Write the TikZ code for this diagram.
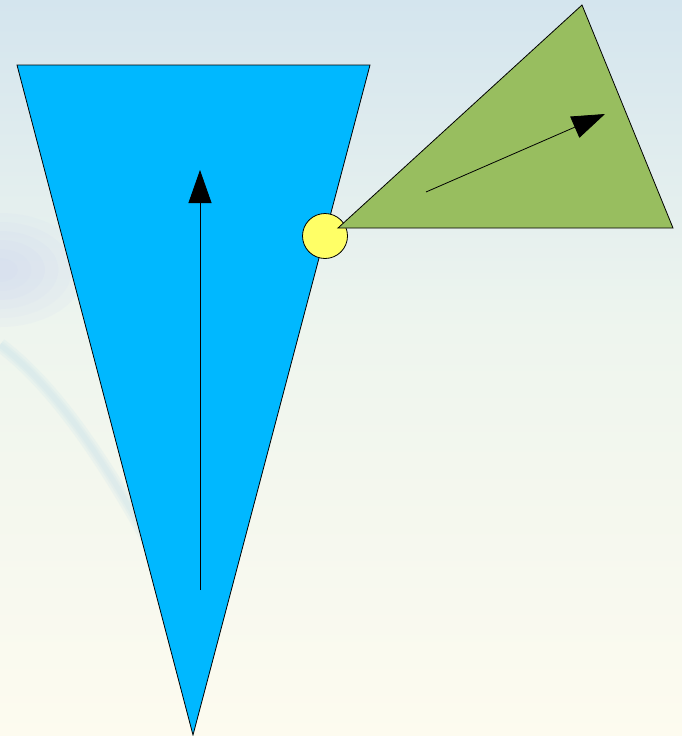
\documentclass[tikz,border=0pt]{standalone}
\usetikzlibrary{arrows.meta}
\usepackage{xcolor}
\definecolor{skyc}{HTML}{00B8FF}
\definecolor{leafc}{HTML}{98BE5F}
\definecolor{sunc}{HTML}{FFFF66}
\definecolor{bgtopc}{HTML}{D4E5EE}
\definecolor{bgmidc}{HTML}{EEF5EE}
\definecolor{bgbotc}{HTML}{FDFBEF}
\definecolor{swirlc}{HTML}{C8E2EA}
\definecolor{hazec}{HTML}{C8D0F0}

\begin{document}
\begin{tikzpicture}[x=1pt, y=-1pt]
  \tikzset{
    shapec/.style={draw=black, line width=0.8pt, line join=miter},
    pointer/.style={line width=0.8pt, -{Triangle[length=33pt, width=23pt]}}
  }
  \useasboundingbox (0,0) rectangle (682,736);
  % background
  \shade[top color=bgtopc, bottom color=bgmidc] (0,0) rectangle (682,330);
  \shade[top color=bgmidc, bottom color=bgbotc] (0,330) rectangle (682,736);
  \foreach \r in {20,35,...,95}
    \fill[hazec, opacity=0.09] (0,270) ellipse ({\r*0.9} and \r*0.6);
  \foreach \w in {14,9,5}
    \draw[swirlc, line width=\w pt, opacity=0.2] (0,345) .. controls (60,390) and (120,480) .. (190,620);
  % cone
  \coordinate (conetl) at (17,65);
  \coordinate (conetr) at (370,65);
  \coordinate (conebt) at (193,735);
  \draw[shapec, fill=skyc] (conetl) -- (conetr) -- (conebt) -- cycle;
  \coordinate (uptail) at (200,590);
  \coordinate (uptip) at (200,170);
  \draw[pointer] (uptail) -- (uptip);
  % hinge
  \node[circle, shapec, fill=sunc, minimum size=45pt, inner sep=0pt] (hinge) at (325,236) {};
  % wing
  \coordinate (wingl) at (338,228);
  \coordinate (wingt) at (582,5);
  \coordinate (wingr) at (673,228);
  \draw[shapec, fill=leafc] (wingl) -- (wingt) -- (wingr) -- cycle;
  \coordinate (sidetail) at (426,192);
  \coordinate (sidetip) at (605,114);
  \draw[pointer] (sidetail) -- (sidetip);
\end{tikzpicture}
\end{document}
